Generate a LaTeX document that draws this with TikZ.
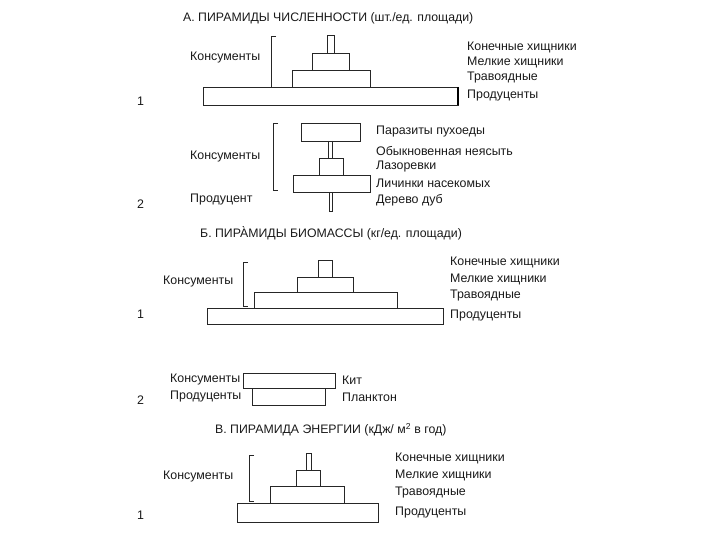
\documentclass[tikz,border=0pt]{standalone}
\usepackage{fontspec}
\setmainfont{Liberation Sans}
\tikzset{
  lbl/.style={anchor=west, inner sep=0pt, text=black!90, font=\fontsize{12.4}{14}\selectfont},
  ttl/.style={lbl, font=\fontsize{12.3}{14}\selectfont},
  lyr/.style={draw=black!85, line width=0.9pt},
}
\newcommand{\bracketat}[3]{\draw[lyr] (#1+5,#2) -- (#1,#2) -- (#1,#3) -- (#1+5,#3);}

\begin{document}
\begin{tikzpicture}[x=1pt,y=-1pt]
  \useasboundingbox (0,0) rectangle (720,540);

  % A. pyramid of numbers
  \node[ttl] (tA) at (183,18) {А. ПИРАМИДЫ ЧИСЛЕННОСТИ (шт./ед. площади)};
  % 1 - grassland
  \foreach \xa/\ya/\xb/\yb in {327/35/334/53, 312/53/349/70, 292/70/370/87, 203/87/458/105}
    \draw[lyr] (\xa,\ya) rectangle (\xb,\yb);
  \draw[black, line width=2pt] (458,87) -- (458,105);
  \bracketat{271}{36}{87}
  \node[lbl] (a1kons) at (190,58) {Консументы};
  \node[lbl] (a1top) at (467,47) {Конечные хищники};
  \node[lbl] (a1small) at (467,62) {Мелкие хищники};
  \node[lbl] (a1herb) at (467,78) {Травоядные};
  \node[lbl] (a1prod) at (467,96) {Продуценты};
  \node[lbl] (a1num) at (137,101) {1};

  % 2 - oak wood
  \foreach \xa/\ya/\xb/\yb in {301/123/360/141, 319/158/343/175, 293/175/370/192, 329/192/332/211}
    \draw[lyr] (\xa,\ya) rectangle (\xb,\yb);
  \draw[lyr] (328,141) -- (328,158) (332,141) -- (332,158);
  \bracketat{273}{123}{190}
  \node[lbl] (a2kons) at (190,157) {Консументы};
  \node[lbl] (a2prod) at (190,200) {Продуцент};
  \node[lbl] (a2num) at (137,204) {2};
  \node[lbl] (a2par) at (376,132) {Паразиты пухоеды};
  \node[lbl] (a2owl) at (376,151) {Обыкновенная неясыть};
  \node[lbl] (a2tit) at (376,167) {Лазоревки};
  \node[lbl] (a2lar) at (376,183) {Личинки насекомых};
  \node[lbl] (a2oak) at (376,200) {Дерево дуб};

  % B. pyramid of biomass
  \node[ttl] (tB) at (200,233) {Б. ПИРА̀МИДЫ БИОМАССЫ (кг/ед. площади)};
  % 1
  \foreach \xa/\ya/\xb/\yb in {318/260/332/277, 297/277/353/292, 254/292/397/308, 207/308/443/324}
    \draw[lyr] (\xa,\ya) rectangle (\xb,\yb);
  \bracketat{243}{262}{306}
  \node[lbl] (b1kons) at (163,282) {Консументы};
  \node[lbl] (b1top) at (450,262) {Конечные хищники};
  \node[lbl] (b1small) at (450,279) {Мелкие хищники};
  \node[lbl] (b1herb) at (450,296) {Травоядные};
  \node[lbl] (b1prod) at (450,316) {Продуценты};
  \node[lbl] (b1num) at (137,314) {1};

  % 2 - sea
  \draw[lyr] (243,373) rectangle (335,388);
  \draw[lyr] (252,388) -- (252,405) -- (325,405) -- (325,388);
  \node[lbl] (b2kons) at (170,380) {Консументы};
  \node[lbl] (b2prod) at (170,397) {Продуценты};
  \node[lbl] (b2num) at (137,400) {2};
  \node[lbl] (b2whale) at (342,380) {Кит};
  \node[lbl] (b2plank) at (342,397) {Планктон};

  % C. pyramid of energy
  \node[ttl] (tC) at (215,430) {В. ПИРАМИДА ЭНЕРГИИ (кДж/ м\textsuperscript{2} в год)};
  \foreach \xa/\ya/\xb/\yb in {306/453/311/470, 296/470/320/486, 270/486/344/503, 237/503/378/522}
    \draw[lyr] (\xa,\ya) rectangle (\xb,\yb);
  \bracketat{249}{455}{501}
  \node[lbl] (c1kons) at (163,477) {Консументы};
  \node[lbl] (c1top) at (395,458) {Конечные хищники};
  \node[lbl] (c1small) at (395,475) {Мелкие хищники};
  \node[lbl] (c1herb) at (395,493) {Травоядные};
  \node[lbl] (c1prod) at (395,513) {Продуценты};
  \node[lbl] (c1num) at (137,515) {1};
\end{tikzpicture}
\end{document}
